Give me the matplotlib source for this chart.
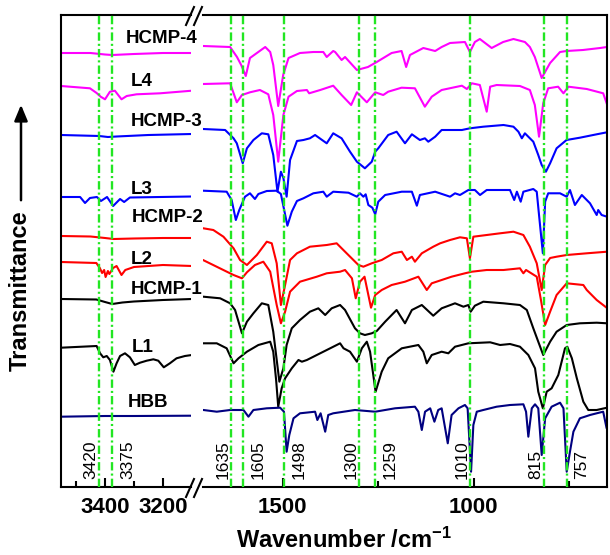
import numpy as np
import matplotlib
matplotlib.use('Agg')
import matplotlib.pyplot as plt
from matplotlib.lines import Line2D
from matplotlib.patches import FancyArrowPatch

plt.rcParams['font.family'] = ['Liberation Sans', 'DejaVu Sans']
plt.rcParams['mathtext.fontset'] = 'custom'
plt.rcParams['mathtext.rm'] = 'Liberation Sans:bold'
plt.rcParams['mathtext.it'] = 'Liberation Sans:bold'
plt.rcParams['mathtext.bf'] = 'Liberation Sans:bold'
plt.rcParams['lines.scale_dashes'] = False

# spectra: (wavenumber /cm-1, transmittance a.u. incl. stacking offset)
hcmp4 = np.array([
    (3552, 434), (3450, 434), (3400, 432.5), (3375, 432), (3300, 433), (3200, 434), (3100, 434),
    (1709, 441), (1638, 440), (1620, 430), (1609, 422), (1597, 411), (1586, 429), (1546, 440),
    (1533, 435), (1525, 422), (1512, 381), (1499, 412), (1485, 429), (1455, 434), (1420, 435),
    (1394, 435), (1385, 430), (1368, 436), (1363, 435), (1346, 427), (1337, 430), (1306, 417),
    (1277, 420), (1254, 425), (1215, 434), (1189, 436), (1177, 420), (1167, 432), (1132, 439),
    (1101, 436), (1084, 440), (1062, 444), (1023, 445), (1010, 435), (997, 445), (984, 448),
    (953, 439), (923, 445), (896, 448), (866, 445), (853, 440), (840, 430), (822, 409),
    (800, 424), (774, 435), (757, 436), (714, 437), (669, 439), (651, 440)])

l4 = np.array([
    (3552, 401), (3452, 398.7), (3429, 394), (3415, 390.3), (3400, 387.7), (3383, 395.3),
    (3366, 396.3), (3343, 387.7), (3325, 391), (3291, 392.7), (3210, 393.7), (3100, 396.3),
    (1709, 403), (1638, 403.7), (1620.5, 384.7), (1607, 392), (1586, 394.7), (1560, 397),
    (1538, 392.7), (1525, 372), (1512, 325.3), (1498.5, 372), (1485, 390.3), (1463, 396),
    (1437, 397), (1431, 393.7), (1402, 397), (1368, 401.3), (1346, 392), (1321, 382),
    (1306, 394.7), (1280, 384.7), (1258, 394.7), (1237, 392), (1224, 395.3), (1189, 399.3),
    (1154, 398.7), (1128, 380.3), (1110, 390.3), (1084, 397), (1031, 401.3), (1018, 398),
    (1005, 403.7), (984, 402), (966, 375.3), (957, 400.3), (940, 402), (879, 401), (853, 397),
    (840, 382), (829, 350.3), (818, 383.7), (805, 398.7), (779, 400.3), (765, 393.7),
    (752, 400.3), (704, 398), (661, 393.7), (651, 382.7)])

hcmp3 = np.array([
    (3552, 352), (3420, 351), (3390, 350), (3360, 350.5), (3250, 352), (3100, 353),
    (1709, 358), (1651, 357), (1629, 348.7), (1620.5, 343.7), (1605, 323.7), (1594, 338.7),
    (1577, 347), (1555, 353.7), (1538, 352.7), (1525, 332), (1514, 295.3), (1505, 315.3),
    (1498.5, 309), (1490, 290.3), (1481, 327), (1463, 346), (1446, 347), (1429, 348.7),
    (1415.5, 352), (1385, 343.7), (1368, 353.7), (1346, 348.7), (1324, 335.3), (1306, 325.3),
    (1285, 318.7), (1267, 325.3), (1258, 335.3), (1250, 338.7), (1224, 352), (1202, 355.3),
    (1180, 343.7), (1162, 352.7), (1141, 347), (1128, 348.7), (1119, 345.3), (1101, 350.3),
    (1084, 357), (1031, 357), (1010, 358.7), (975, 360.3), (922, 362), (896, 360.3),
    (883, 355.3), (874, 348.7), (866, 353.7), (844, 345.3), (831, 332), (822, 322),
    (811, 315.3), (800, 323.7), (783, 338.7), (757, 347), (722, 349.3), (678, 352.7),
    (651, 354.7)])

l3 = np.array([
    (3552, 290), (3486, 290), (3469, 284), (3452, 289), (3428, 290), (3414, 286), (3393, 290),
    (3372, 281), (3348, 288), (3334, 285), (3314, 289.5), (3210, 290), (3100, 290.5),
    (1709, 296.3), (1647, 295.3), (1634, 287), (1623, 267), (1614, 277), (1599, 290.3),
    (1586, 293.7), (1573, 288), (1564, 293), (1542, 296), (1516, 296.3), (1505, 293),
    (1488, 261.3), (1476.5, 275.3), (1463, 286), (1446, 288.7), (1420, 293.7), (1394, 295.3),
    (1385, 290.3), (1368, 295.3), (1328, 294.3), (1306, 290.3), (1298, 293.7), (1289, 290.3),
    (1283, 292.7), (1276, 282), (1265.5, 279.3), (1258, 272.7), (1250, 285.3), (1232, 292),
    (1188.5, 295.3), (1162, 295.3), (1149, 281.3), (1141, 292), (1101, 295.3), (1062, 290.3),
    (1049, 293.7), (1036, 292), (1014, 297), (997, 297), (983.5, 292), (966, 297), (905, 297),
    (894, 287), (887, 295.3), (877, 285.3), (870, 295.3), (844, 298), (835, 295.3), (829, 272),
    (819, 233.7), (813, 285.3), (805, 293.7), (774, 293.7), (756.5, 290.3), (748, 297),
    (735, 282), (717, 292), (695.5, 283.7), (678, 272), (674, 277), (665, 272), (651, 270.3)])

hcmp2 = np.array([
    (3552, 251), (3450, 250.5), (3400, 249), (3370, 248), (3300, 248.5), (3200, 249), (3100, 249),
    (1708, 258.7), (1682, 257), (1655.5, 250.3), (1629, 238.7), (1612, 227), (1594, 222),
    (1568, 232), (1542, 245.3), (1529, 243.7), (1516, 223.7), (1505, 182), (1494, 202),
    (1481, 227), (1463, 233.7), (1429, 240.3), (1385, 242), (1359, 243.7), (1337, 235.3),
    (1302, 222), (1289, 220.3), (1267, 223.7), (1241, 227), (1210.5, 233.7), (1188.5, 235.3),
    (1175, 227), (1162, 230.3), (1154, 225.3), (1136, 233.7), (1106, 240.3), (1088, 243.7),
    (1062, 247), (1036, 249.7), (1018, 248.7), (1010, 228.7), (1001, 250.3), (966, 252),
    (931, 253.7), (896, 255.3), (870, 252), (853, 240.3), (835, 223.7), (822, 197), (813, 222),
    (800, 229), (783, 230.3), (756.5, 232), (704, 233.7), (651, 235.3)])

l2 = np.array([
    (3552, 225), (3430, 224), (3418, 219), (3410, 214), (3403, 217), (3398, 210), (3390, 216),
    (3385, 213), (3372, 219), (3360, 221), (3343, 212), (3330, 217), (3300, 220), (3200, 222),
    (3100, 221),
    (1709, 227), (1629, 212), (1607, 208.7), (1594, 214.7), (1573, 222), (1551, 225.3),
    (1533, 215.3), (1516, 182), (1505, 163.7), (1494, 175.3), (1481, 195.3), (1455, 205.3),
    (1411, 210.3), (1385, 213.7), (1350, 215.3), (1337, 217), (1319, 208.7), (1309, 188.7),
    (1298, 205.3), (1286, 210.3), (1276, 192), (1269, 179.3), (1258, 192), (1241, 197),
    (1215, 202), (1180, 205.3), (1145, 210.3), (1123, 197), (1110, 203.7), (1084, 207),
    (1058, 210.3), (1023, 213.7), (1005, 215.3), (966, 217), (922, 217), (879, 218.7),
    (870, 213.7), (863, 217), (835, 210.3), (824, 187), (813, 162), (800, 175.3), (783, 192),
    (756.5, 203.7), (713, 202), (704, 197), (678, 187), (651, 179)])

hcmp1 = np.array([
    (3552, 188), (3430, 187.5), (3400, 185), (3375, 183), (3340, 184.5), (3300, 185.5),
    (3200, 187), (3100, 188),
    (1708, 190.3), (1664, 188.7), (1638, 183.7), (1625, 177), (1607, 153.7), (1594, 165.3),
    (1577, 173.7), (1555, 183.7), (1538, 182), (1525, 155.3), (1509, 105.3), (1498.5, 118.7),
    (1490, 142), (1476.5, 158.7), (1455, 167), (1429, 175.3), (1407, 178.7), (1389, 172),
    (1372, 178.7), (1350, 182), (1337, 177), (1311, 158.7), (1298, 153.7), (1285, 152),
    (1267, 153.7), (1254, 156), (1232, 165.3), (1202, 177), (1180, 163.7), (1162, 177),
    (1136, 182), (1106, 171.3), (1084, 178.7), (1049, 183.7), (1027, 180.3), (1014, 182),
    (1008, 175.3), (997, 181.3), (975, 185.3), (922, 183.7), (879, 182), (861, 177),
    (844, 158.7), (831, 145.3), (818, 132), (800, 145.3), (783, 155.3), (756.5, 162),
    (722, 163.7), (678, 164.3), (651, 163.7)])

l1 = np.array([
    (3552, 139.3), (3429, 141), (3417, 133.7), (3406, 129.7), (3394, 131), (3383, 127),
    (3371, 115.3), (3360, 123.7), (3348, 131), (3331, 133.7), (3314, 129.7), (3297, 122),
    (3279, 124.3), (3256, 126.3), (3233, 127.7), (3216, 126.3), (3197, 119.7), (3176, 123.7),
    (3153, 128.7), (3124, 131), (3100, 132),
    (1708, 143.7), (1673, 143.7), (1647, 138.7), (1629, 123.7), (1616, 128.7), (1594, 135.3),
    (1564, 142), (1533, 145.3), (1525, 135.3), (1517.5, 107), (1512, 80.3), (1503, 98.7),
    (1494, 108.7), (1476.5, 118.7), (1459, 127), (1450, 125.3), (1437, 127), (1411, 132),
    (1376, 138.7), (1350, 143.7), (1341, 138.7), (1324, 135.3), (1306, 125.3), (1293, 138.7),
    (1280, 145.3), (1271.5, 135.3), (1257, 95.3), (1241, 115.3), (1224, 128.7), (1188.5, 138.7),
    (1145, 142), (1132, 135.3), (1123, 123.7), (1110, 132), (1084, 135.3), (1066.5, 133.7),
    (1049, 140.3), (1014, 143.7), (957, 144.7), (931, 142), (905, 143), (879, 140.3),
    (857, 132), (839.5, 118.7), (831, 95.3), (819, 78.7), (809, 95.3), (796, 98.7),
    (778.5, 112), (761, 138.7), (755, 140.3), (743, 128.7), (730, 108.7), (713, 85.3),
    (700, 77), (678, 77), (651, 79.3)])

hbb = np.array([
    (3552, 70.3), (3400, 71), (3300, 71), (3100, 71.3),
    (1708, 77), (1673, 75.3), (1638, 77), (1603, 77), (1590, 70.3), (1577, 77), (1542, 78.7),
    (1507, 79.3), (1497, 75.3), (1490, 35.3), (1483, 52), (1472, 68.7), (1455, 73.7),
    (1415.5, 75.3), (1409.5, 67), (1401, 73.7), (1389, 55.3), (1381, 72), (1368, 73.7),
    (1311, 77), (1258, 75.3), (1206, 78.7), (1154, 80.3), (1145, 75.3), (1136, 57),
    (1127.5, 75.3), (1114, 78.7), (1103, 65.3), (1093, 77), (1084, 78.7), (1068, 43.7),
    (1058, 72), (1040, 78.7), (1023, 82), (1016, 78.7), (1007, 15.3), (1001, 62), (992, 75.3),
    (975, 77), (940, 80.3), (905, 82), (870, 82.7), (863, 75.3), (857, 50.3), (848, 78.7),
    (839.5, 82.7), (831, 78.7), (822, 32), (813, 68.7), (796, 80.3), (774, 84.3), (765, 78.7),
    (756.5, 15.3), (748, 35.3), (739, 55.3), (722, 68.7), (709, 70.3), (695.5, 72), (678, 73.7),
    (661, 75.3), (652, 58.7), (648, 67)])

names = ['HCMP-4', 'L4', 'HCMP-3', 'L3', 'HCMP-2', 'L2', 'HCMP-1', 'L1', 'HBB']
spectra = [hcmp4, l4, hcmp3, l3, hcmp2, l2, hcmp1, l1, hbb]
colors = ['#ff00ff', '#ff00ff', '#0000ff', '#0000ff', '#ff0000', '#ff0000', 'black', 'black', '#000080']
# name label anchors (wavenumber, height) in the left panel
name_x = [3328, 3310, 3310, 3310, 3307, 3310, 3310, 3307, 3321]
name_y = [448.5, 406, 365, 298, 269, 228, 197, 139.5, 84.5]

marks = [3420, 3375, 1635, 1605, 1498, 1300, 1259, 1010, 815, 757]
mark_side = [-1, 1, -1, 1, 1, -1, 1, -1, -1, 1]

W, H = 610, 555
fig = plt.figure(figsize=(W / 100, H / 100), dpi=100)
axL = fig.add_axes([61 / W, 68 / H, 130 / W, 472 / H])
axR = fig.add_axes([203 / W, 68 / H, 404 / W, 472 / H])

green = '#22e622'
for ax in (axL, axR):
    for s, c in zip(spectra, colors):
        ax.plot(s[:, 0], s[:, 1], color=c, lw=1.5, zorder=2)
    for m in marks:
        ax.axvline(m, color=green, lw=1.7, ls=(0, (6, 2.2, 1.5, 2.2)), zorder=3)
    ax.set_ylim(0, 472)
    ax.set_yticks([])
    for sp in ax.spines.values():
        sp.set_linewidth(1.5)
    ax.tick_params(axis='x', which='major', direction='in', length=6.5, width=1.5,
                   labelsize=16, pad=7)
    ax.tick_params(axis='x', which='minor', direction='in', length=4.5, width=1.5)

axL.set_xlim(3552, 3103)
axR.set_xlim(1709, 651)
axL.set_xticks([3400, 3200])
axL.set_xticks([3500, 3300], minor=True)
axR.set_xticks([1500, 1000])
axR.set_xticks([1250, 750], minor=True)
axL.spines['right'].set_visible(False)
axR.spines['left'].set_visible(False)
for ax in (axL, axR):
    for lbl in ax.get_xticklabels():
        lbl.set_fontweight('bold')

for m, side in zip(marks, mark_side):
    ax = axL if m > 2000 else axR
    ax.annotate(str(m), xy=(m, 8), xytext=(5.5 if side > 0 else -0.5, 0),
                textcoords='offset points', rotation=90, fontsize=12.5,
                ha='left' if side > 0 else 'right', va='bottom', zorder=4)

for n, x, y in zip(names, name_x, name_y):
    axL.text(x, y, n, fontsize=13.5, fontweight='bold', ha='left', va='center', clip_on=False)

# break marks
for y0 in (25, 497):
    for x0 in (186, 194):
        fig.add_artist(Line2D([x0 / W, (x0 + 8) / W], [1 - y0 / H, 1 - (y0 - 18) / H],
                              color='black', lw=1.5))

fig.text(344 / W, 1 - 540 / H, 'Wavenumber /cm$^{-1}$', ha='center', va='center',
         fontsize=17, fontweight='bold')
fig.text(20 / W, 1 - 291 / H, 'Transmittance', rotation=90, ha='center', va='center',
         fontsize=17, fontweight='bold')
fig.add_artist(FancyArrowPatch((21 / W, 1 - 203 / H), (21 / W, 1 - 102 / H),
                               transform=fig.transFigure, color='black', lw=1.8,
                               arrowstyle='-|>,head_length=0.6,head_width=0.25',
                               mutation_scale=16))

fig.savefig('out.png', dpi=100)
